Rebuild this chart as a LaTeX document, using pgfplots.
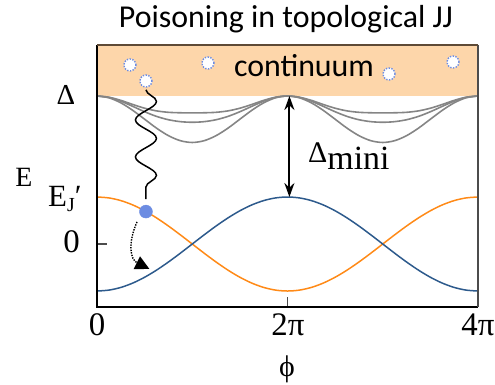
\documentclass[border=0pt]{standalone}
\usepackage{pgfplots}
\usepackage{pgfplotstable}
\pgfplotsset{compat=1.18}
\usepackage{fontspec}
\setmainfont{Liberation Serif}
\newfontfamily\calfont{Carlito}
\usetikzlibrary{arrows.meta,decorations.pathmorphing}

\definecolor{bandpeach}{HTML}{FDD6AA}
\definecolor{bandedge}{HTML}{5E4A36}
\definecolor{orangeline}{HTML}{FF8A17}
\definecolor{blueline}{HTML}{2D5A8C}
\definecolor{grayline}{HTML}{858585}
\definecolor{dotblue}{HTML}{6C8CE2}

% x in units of pi; E in units of E_J'
\pgfplotstableread{
x      orange   blue     ga     gb     gc
0      1        -1       3.149  3.149  3.149
0.125  0.9808   -0.9808  3.123  3.120  3.111
0.25   0.9239   -0.9239  3.056  3.039  3.004
0.375  0.8315   -0.8315  2.969  2.929  2.844
0.5    0.7071   -0.7071  2.889  2.814  2.655
0.625  0.5556   -0.5556  2.832  2.715  2.465
0.75   0.3827   -0.3827  2.802  2.644  2.305
0.875  0.1951   -0.1951  2.792  2.603  2.198
1      0        0        2.790  2.590  2.160
1.125  -0.1951  0.1951   2.792  2.603  2.198
1.25   -0.3827  0.3827   2.802  2.644  2.305
1.375  -0.5556  0.5556   2.832  2.715  2.465
1.5    -0.7071  0.7071   2.889  2.814  2.655
1.625  -0.8315  0.8315   2.969  2.929  2.844
1.75   -0.9239  0.9239   3.056  3.039  3.004
1.875  -0.9808  0.9808   3.123  3.120  3.111
2      -1       1        3.149  3.149  3.149
2.125  -0.9808  0.9808   3.123  3.120  3.111
2.25   -0.9239  0.9239   3.056  3.039  3.004
2.375  -0.8315  0.8315   2.969  2.929  2.844
2.5    -0.7071  0.7071   2.889  2.814  2.655
2.625  -0.5556  0.5556   2.832  2.715  2.465
2.75   -0.3827  0.3827   2.802  2.644  2.305
2.875  -0.1951  0.1951   2.792  2.603  2.198
3      0        0        2.790  2.590  2.160
3.125  0.1951   -0.1951  2.792  2.603  2.198
3.25   0.3827   -0.3827  2.802  2.644  2.305
3.375  0.5556   -0.5556  2.832  2.715  2.465
3.5    0.7071   -0.7071  2.889  2.814  2.655
3.625  0.8315   -0.8315  2.969  2.929  2.844
3.75   0.9239   -0.9239  3.056  3.039  3.004
3.875  0.9808   -0.9808  3.123  3.120  3.111
4      1        -1       3.149  3.149  3.149
}\bands

\begin{document}
\begin{tikzpicture}
\begin{axis}[
    at={(97bp,78bp)}, anchor=south west,
    scale only axis,
    width=381bp, height=262bp,
    xmin=0, xmax=4,
    ymin=-1.340, ymax=4.234,
    axis line style={draw=none},
    clip=false,
    xtick={2}, xticklabels={},
    ytick={0}, yticklabels={},
    xtick pos=lower, ytick pos=left,
    tick align=inside,
    major tick length=10bp,
    tick style={black!70, line width=1.2bp},
]
% continuum band
\addplot[fill=bandpeach, draw=none] coordinates {(0,3.149) (4,3.149) (4,4.234) (0,4.234)} -- cycle;

% gray bound states
\addplot[grayline, line width=1.6bp, smooth] table[x=x, y=ga] {\bands};
\addplot[grayline, line width=1.6bp, smooth] table[x=x, y=gb] {\bands};
\addplot[grayline, line width=1.6bp, smooth] table[x=x, y=gc] {\bands};

% Majorana branches
\addplot[orangeline, line width=1.5bp, smooth] table[x=x, y=orange] {\bands};
\addplot[blueline, line width=1.5bp, smooth] table[x=x, y=blue] {\bands};

% quasiparticles in the continuum
\addplot[only marks, mark=*, mark size=6bp,
    mark options={fill=white, draw=dotblue, line width=1.4bp, dash pattern=on 1.4bp off 1.4bp}]
  coordinates {(0.346,3.809) (0.514,3.468) (1.165,3.851) (3.066,3.617) (3.738,3.872)};

% poisoning path
\draw[decorate, decoration={snake, segment length=37bp, amplitude=10.5bp}, line width=1.5bp]
  (axis cs:0.514,3.28) -- (axis cs:0.514,0.957);
\draw[line width=1.4bp, dash pattern=on 1.4bp off 1.2bp, -{Triangle[length=14bp, width=14bp]}]
  (axis cs:0.42,0.47) .. controls (axis cs:0.32,0.0) and (axis cs:0.35,-0.33) .. (axis cs:0.55,-0.53);
\addplot[only marks, mark=*, mark size=6.5bp, mark options={fill=dotblue, draw=dotblue}]
  coordinates {(0.514,0.69)};

% gap arrow
\draw[line width=1.9bp, {Stealth[length=14bp, width=10bp]}-{Stealth[length=14bp, width=10bp]}]
  (axis cs:2.02,3.149) -- (axis cs:2.02,1.0);

% frame
\draw[black, line width=1.3bp] (rel axis cs:0,1) -- (rel axis cs:0,0) -- (rel axis cs:1,0);
\draw[black!70, line width=1.3bp] (rel axis cs:1,0) -- (rel axis cs:1,1);
\draw[bandedge, line width=1.3bp] (rel axis cs:0,1) -- (rel axis cs:1,1);
\end{axis}

% texts
\node[font=\calfont\fontsize{32}{32}\selectfont, anchor=base] at (286bp,357bp) {Poisoning in topological JJ};
\node[font=\calfont\fontsize{32}{32}\selectfont, anchor=base] at (304bp,308bp) {continuum};
\node[font=\fontsize{30}{30}\selectfont, anchor=base west, inner sep=0pt] at (308bp,222bp)
  {Δ\raisebox{-7bp}{\fontsize{34}{34}\selectfont mini}};
\node[font=\fontsize{29}{29}\selectfont, anchor=base, inner sep=0pt] at (66bp,280bp) {Δ};
\node[font=\fontsize{28}{28}\selectfont, anchor=base, inner sep=0pt] at (24bp,198bp) {E};
\node[font=\fontsize{31}{31}\selectfont, anchor=base west, inner sep=0pt] at (48bp,178bp)
  {E\raisebox{-5bp}{\fontsize{20}{20}\selectfont J}′};
\node[font=\fontsize{33}{33}\selectfont, anchor=base east, inner sep=0pt] at (80bp,132bp) {0};
\node[font=\fontsize{33}{33}\selectfont, anchor=base, inner sep=0pt] at (97bp,49bp) {0};
\node[font=\fontsize{33}{33}\selectfont, anchor=base, inner sep=0pt] at (288bp,49bp) {2π};
\node[font=\fontsize{33}{33}\selectfont, anchor=base, inner sep=0pt] at (478bp,49bp) {4π};
\node[font=\fontsize{30}{30}\selectfont, anchor=base, inner sep=0pt] at (287bp,9bp) {ϕ};

\pgfresetboundingbox
\path (0bp,0bp) rectangle (495bp,385bp);
\end{tikzpicture}
\end{document}
